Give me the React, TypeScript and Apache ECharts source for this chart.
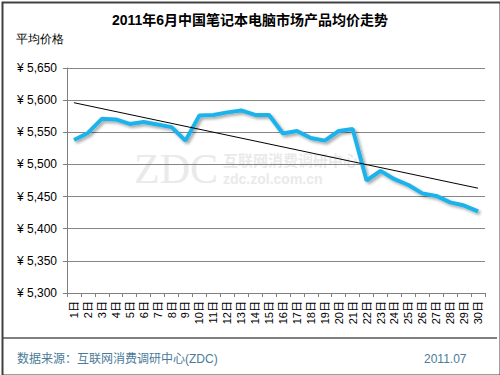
import React, { useEffect, useRef } from "react";
import * as echarts from "echarts";

const categories = [
  "1日", "2日", "3日", "4日", "5日", "6日", "7日", "8日", "9日", "10日",
  "11日", "12日", "13日", "14日", "15日", "16日", "17日", "18日", "19日", "20日",
  "21日", "22日", "23日", "24日", "25日", "26日", "27日", "28日", "29日", "30日",
];
const avgPrice = [
  5538, 5549, 5571, 5570, 5563, 5566, 5562, 5558, 5537, 5576,
  5577, 5581, 5584, 5577, 5577, 5548, 5552, 5541, 5537, 5552,
  5555, 5475, 5490, 5477, 5468, 5455, 5451, 5441, 5436, 5427,
];
// trend line end values (first day, last day)
const trendEnds = [5596, 5463];
const yTicks = { min: 5300, max: 5650, step: 50 };

const title = "2011年6月中国笔记本电脑市场产品均价走势";
const yName = "平均价格";
const sourceText = "数据来源：互联网消费调研中心(ZDC)";
const dateText = "2011.07";

export default function App() {
  const ref = useRef<HTMLDivElement>(null);
  useEffect(() => {
    document.body.style.margin = "0";
    const chart = echarts.init(ref.current!, null, { renderer: "svg" });
    const font = "Arial, 'Liberation Sans', 'Noto Sans CJK SC', sans-serif";
    chart.setOption({
      animation: false,
      backgroundColor: "#ffffff",
      textStyle: { fontFamily: font },
      title: {
        text: title,
        left: "center",
        top: 8,
        textStyle: { fontSize: 14, fontWeight: "bold", color: "#000", fontFamily: font },
      },
      grid: { left: 67, right: 15, top: 68, bottom: 82, containLabel: false },
      xAxis: {
        type: "category",
        data: categories,
        boundaryGap: true,
        axisLine: { lineStyle: { color: "#808080", width: 1 } },
        axisTick: { show: true, length: 4, lineStyle: { color: "#808080" } },
        axisLabel: {
          rotate: 90,
          interval: 0,
          fontSize: 11,
          color: "#000",
          margin: 8,
          fontFamily: font,
        },
      },
      yAxis: {
        type: "value",
        min: yTicks.min,
        max: yTicks.max,
        interval: yTicks.step,
        axisLine: { show: true, lineStyle: { color: "#808080", width: 1 } },
        axisTick: { show: true, length: 4, lineStyle: { color: "#808080" } },
        splitLine: { lineStyle: { color: "#868686", width: 1 } },
        axisLabel: {
          fontSize: 12,
          color: "#000",
          margin: 10,
          fontFamily: font,
          formatter: (v: number) => "¥ " + v.toLocaleString("en-US"),
        },
      },
      series: [
        {
          type: "line",
          data: avgPrice,
          symbol: "none",
          lineStyle: {
            color: "#1cb2ea",
            width: 4,
            shadowColor: "rgba(0,0,0,0.35)",
            shadowBlur: 3,
            shadowOffsetX: 2,
            shadowOffsetY: 2,
          },
          z: 3,
          markLine: {
            silent: true,
            symbol: "none",
            label: { show: false },
            lineStyle: { color: "#000", width: 1, type: "solid" },
            data: [
              [
                { coord: [categories[0], trendEnds[0]] },
                { coord: [categories[categories.length - 1], trendEnds[1]] },
              ],
            ],
          },
        },
      ],
      graphic: [
        {
          type: "rect",
          left: 0,
          top: 0,
          shape: { width: 498, height: 373 },
          style: { fill: "none", stroke: "#404040", lineWidth: 2 },
          z: 100,
        },
        {
          type: "text",
          left: 16,
          top: 33,
          style: { text: yName, fontSize: 12, fill: "#000", font: `12px ${font}` },
        },
        {
          type: "text",
          left: 134,
          top: 148,
          z: -1,
          style: { text: "ZDC", fill: "#eaeaea", font: `42px 'Liberation Serif', serif` },
        },
        {
          type: "text",
          left: 223,
          top: 152,
          z: -1,
          style: { text: "互联网消费调研中心", fill: "#eaeaea", font: `bold 15px 'Noto Sans CJK SC', sans-serif` },
        },
        {
          type: "text",
          left: 223,
          top: 172,
          z: -1,
          style: { text: "zdc.zol.com.cn", fill: "#eaeaea", font: `bold 14px Arial, sans-serif` },
        },
        {
          type: "line",
          shape: { x1: 3, y1: 338, x2: 497, y2: 338 },
          style: { stroke: "#000", lineWidth: 1 },
        },
        {
          type: "text",
          left: 17,
          top: 353,
          style: { text: sourceText, fill: "#4a7b98", font: `12px ${font}` },
        },
        {
          type: "text",
          left: 424,
          top: 353,
          style: { text: dateText, fill: "#4a7b98", font: `12px ${font}` },
        },
      ],
    });
    return () => chart.dispose();
  }, []);
  return <div ref={ref} style={{ width: 500, height: 375 }} />;
}
